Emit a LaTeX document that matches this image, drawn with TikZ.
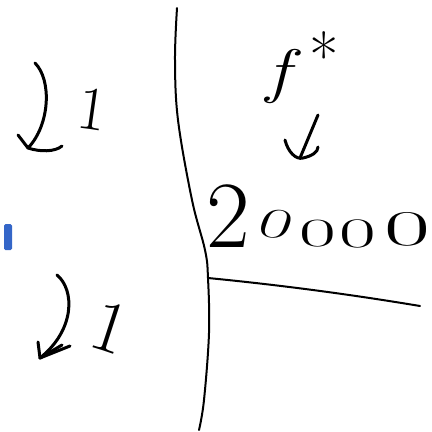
\documentclass[tikz,border=0pt]{standalone}
\definecolor{penblue}{RGB}{52,102,200}
\begin{document}
\begin{tikzpicture}[x=1pt,y=-1pt,
  ink/.style={line width=3pt,line cap=round,line join=round},
  axis/.style={line width=2pt,line cap=round,line join=round},
  hand/.style={inner sep=0pt,outer sep=0pt}]
\useasboundingbox (0,0) rectangle (432,432);
% vertical divider
\draw[axis] plot[smooth,tension=0.6] coordinates {(177,8) (175,60) (178,120) (192,200) (205,250) (208,278) (209,333) (204,400) (199,430)};
% horizontal axis
\coordinate (o) at (208,278);
\coordinate (e) at (420,306);
\draw[axis] (o) .. controls (290,286) and (360,296) .. (e);
% top-left curved arrow and 1
\draw[ink] (35,63) .. controls (52,80) and (50,125) .. (28,148);
\draw[ink] (18,135) -- (28,148) .. controls (40,152) and (55,152) .. (62,146);
\node[hand,rotate=-8] (one1) at (92,109) {\fontsize{62}{62}\selectfont 1};
% bottom-left curved arrow and 1
\draw[ink] (57,275) .. controls (75,290) and (75,330) .. (40,358);
\draw[ink] (38,342) -- (40,358) -- (70,346);
\draw[ink] (40,358) -- (62,345);
\node[hand,rotate=-18] (one2) at (110,327) {\fontsize{74}{74}\selectfont 1};
% blue mark
\fill[penblue,rounded corners=1.5pt] (4,224) rectangle (12,250);
% f*
\node[hand,font=\itshape,xscale=1.3] (f) at (278,76) {\fontsize{60}{60}\selectfont f};
\node[hand] (star) at (324,56) {\fontsize{64}{64}\selectfont *};
% down check arrow
\draw[ink] (318,115) -- (300,158);
\draw[ink] (285,140) .. controls (288,152) and (296,160) .. (303,158) .. controls (312,156) and (318,152) .. (318,147);
% 20000
\node[hand] (two) at (228,216) {\fontsize{95}{95}\selectfont 2};
\node[hand,xscale=1.7,rotate=-12] (z1) at (276,224) {\fontsize{42}{42}\selectfont 0};
\node[hand,xscale=2.0] (z2) at (318,234) {\fontsize{40}{40}\selectfont 0};
\node[hand,xscale=1.9] (z3) at (358,234) {\fontsize{42}{42}\selectfont 0};
\node[hand,xscale=2.0] (z4) at (407,229) {\fontsize{50}{50}\selectfont 0};
\end{tikzpicture}
\end{document}
